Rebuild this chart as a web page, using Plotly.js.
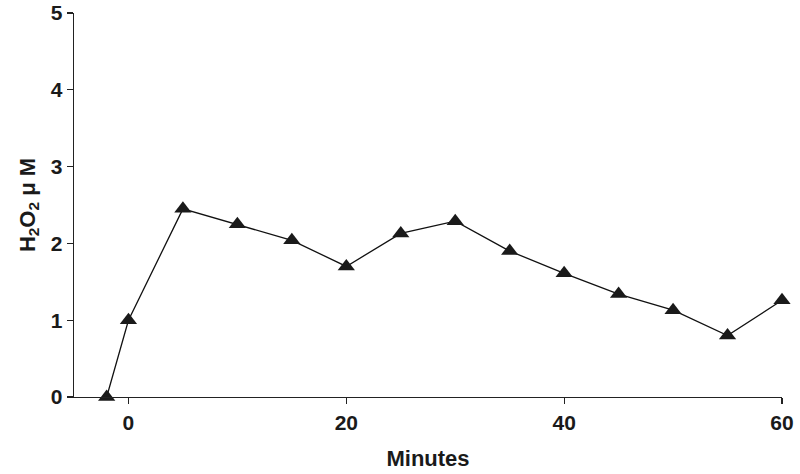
<!DOCTYPE html>
<html><head><meta charset="utf-8">
<script src="https://cdn.plot.ly/plotly-3.0.1.min.js"></script>
<style>html,body{margin:0;padding:0;background:#fff}#chart{width:800px;height:474px}</style>
</head><body><div id="chart"></div>
<script>
var minutes = [-2, 0, 5, 10, 15, 20, 25, 30, 35, 40, 45, 50, 55, 60];
var h2o2 = [0, 1.0, 2.45, 2.25, 2.04, 1.70, 2.13, 2.29, 1.90, 1.61, 1.34, 1.13, 0.80, 1.26];
var xTicks = [0, 20, 40, 60];
var yTicks = [0, 1, 2, 3, 4, 5];

var fontFam = 'Liberation Sans, Arial, sans-serif';
var trace = {
  x: minutes, y: h2o2, type: 'scatter', mode: 'lines+markers',
  line: {color: '#111', width: 1.3},
  marker: {symbol: 'triangle-up', size: 15, color: '#1a1a1a'},
  cliponaxis: false
};
var layout = {
  width: 800, height: 474,
  margin: {l: 74, r: 18, t: 13, b: 77},
  paper_bgcolor: '#fff', plot_bgcolor: '#fff',
  showlegend: false,
  font: {family: fontFam, color: '#1a1a1a', size: 21, weight: 'bold'},
  xaxis: {
    range: [-5, 60], tickvals: xTicks, ticktext: xTicks.map(String),
    showgrid: false, zeroline: false, showline: true, linecolor: '#222', linewidth: 1.3,
    ticks: 'outside', ticklen: 6, tickwidth: 1.3, tickcolor: '#222',
    tickfont: {family: fontFam, size: 21, weight: 'bold', color: '#1a1a1a'},
    title: {text: 'Minutes', font: {family: fontFam, size: 22, weight: 'bold', color: '#1a1a1a'}, standoff: 18}
  },
  yaxis: {
    range: [0, 5], tickvals: yTicks, ticktext: yTicks.map(String),
    showgrid: false, zeroline: false, showline: true, linecolor: '#222', linewidth: 1.3,
    ticks: 'outside', ticklen: 6, tickwidth: 1.3, tickcolor: '#222',
    tickfont: {family: fontFam, size: 21, weight: 'bold', color: '#1a1a1a'},
    title: {text: 'H<sub>2</sub>O<sub>2</sub> μ M', font: {family: fontFam, size: 22, weight: 'bold', color: '#1a1a1a'}, standoff: 9}
  }
};
Plotly.newPlot('chart', [trace], layout, {displayModeBar: false, staticPlot: true});
</script></body></html>
